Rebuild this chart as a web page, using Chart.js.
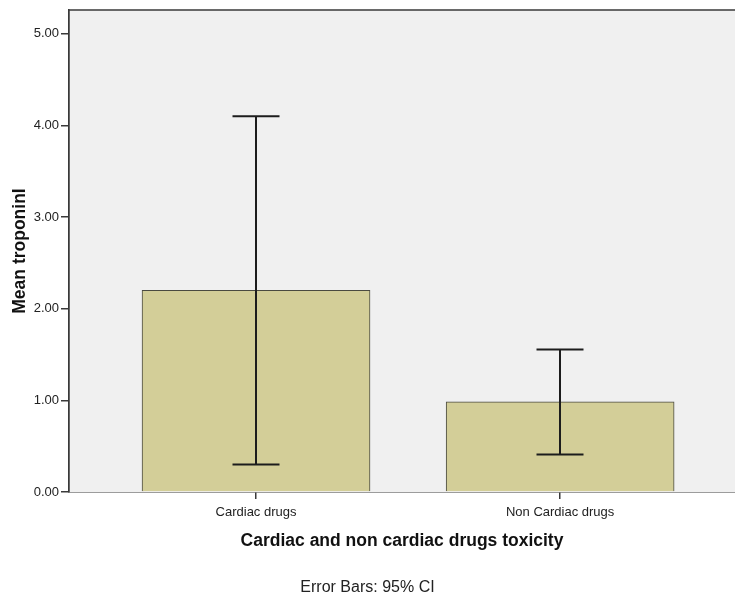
<!DOCTYPE html>
<html>
<head>
<meta charset="utf-8">
<script src="https://cdn.jsdelivr.net/npm/chart.js@4/dist/chart.umd.min.js"></script>
<style>
  html, body { margin: 0; padding: 0; background: #fff; overflow: hidden; }
  #wrap { width: 735px; height: 597px; }
</style>
</head>
<body>
<div id="wrap"><canvas id="chart" width="735" height="597"></canvas></div>
<script>
// Data
const categories = ["Cardiac drugs", "Non Cardiac drugs"];
const meanTroponin = [2.2, 0.985];
const ciLow = [0.3, 0.41];
const ciHigh = [4.1, 1.555];
const yTicks = [0, 1, 2, 3, 4, 5];

const axisColor = "#3a3a3a";
const fontFamily = "'Liberation Sans', Arial, sans-serif";

// plot background + frame
const plotFrame = {
  id: "plotFrame",
  beforeDatasetsDraw(chart) {
    const { ctx, chartArea: a } = chart;
    ctx.save();
    ctx.fillStyle = "#f0f0f0";
    ctx.fillRect(a.left, a.top, a.right - a.left, a.bottom - a.top);
    ctx.restore();
  },
  afterDraw(chart) {
    const { ctx, chartArea: a } = chart;
    ctx.save();
    ctx.strokeStyle = axisColor;
    ctx.lineWidth = 1.5;
    ctx.beginPath();
    ctx.moveTo(a.left, a.bottom);
    ctx.lineTo(a.left, a.top);
    ctx.lineTo(a.right + 2, a.top);
    ctx.stroke();
    ctx.restore();
  },
};

// 95% CI whiskers
const errorBars = {
  id: "errorBars",
  afterDatasetsDraw(chart) {
    const { ctx, scales } = chart;
    const x = scales.x, y = scales.y;
    ctx.save();
    ctx.strokeStyle = "#1c1c1c";
    ctx.lineWidth = 2;
    categories.forEach((c, i) => {
      const px = Math.round(x.getPixelForValue(i + 1));
      const top = y.getPixelForValue(ciHigh[i]);
      const bot = y.getPixelForValue(ciLow[i]);
      const cap = 23.5;
      ctx.beginPath();
      ctx.moveTo(px, top);
      ctx.lineTo(px, bot);
      ctx.moveTo(px - cap, top);
      ctx.lineTo(px + cap, top);
      ctx.moveTo(px - cap, bot);
      ctx.lineTo(px + cap, bot);
      ctx.stroke();
    });
    ctx.restore();
  },
};

new Chart(document.getElementById("chart"), {
  type: "bar",
  data: {
    datasets: [
      {
        data: meanTroponin.map((v, i) => ({ x: i + 1, y: v })),
        backgroundColor: "#d3ce98",
        borderColor: "#4a4a40",
        borderWidth: 1,
        barThickness: 228,
      },
    ],
  },
  options: {
    responsive: false,
    animation: false,
    layout: { padding: { top: 10, left: 0, right: 0, bottom: 0 } },
    plugins: {
      legend: { display: false },
      tooltip: { enabled: false },
      title: {
        display: true,
        position: "bottom",
        text: "Error Bars: 95% CI",
        color: "#222",
        font: { family: fontFamily, size: 16, weight: "normal" },
        padding: { top: 2, bottom: 0 },
      },
    },
    scales: {
      x: {
        type: "linear",
        offset: false,
        min: 0.385,
        max: 2.575,
        afterBuildTicks(scale) {
          scale.ticks = categories.map((c, i) => ({ value: i + 1 }));
        },
        afterFit(scale) {
          scale.height = 83.8;
        },
        ticks: {
          callback: (v) => categories[v - 1],
          color: "#222",
          font: { family: fontFamily, size: 13 },
          padding: 5.5,
          maxRotation: 0,
          autoSkip: false,
        },
        grid: { offset: false, drawOnChartArea: false, tickLength: 7, color: axisColor, lineWidth: 1.5 },
        border: { color: axisColor, width: 1.5 },
        title: {
          display: true,
          text: "Cardiac and non cardiac drugs toxicity",
          color: "#111",
          font: { family: fontFamily, size: 17.5, weight: "bold" },
          padding: { top: 0, bottom: 24.3 },
        },
      },
      y: {
        min: 0,
        max: 5.26,
        afterBuildTicks(scale) {
          scale.ticks = yTicks.map((v) => ({ value: v }));
        },
        afterFit(scale) {
          scale.width = 69;
        },
        ticks: {
          callback: (v) => v.toFixed(2),
          color: "#222",
          font: { family: fontFamily, size: 13 },
          padding: 2,
        },
        grid: { drawOnChartArea: false, tickLength: 8, color: axisColor, lineWidth: 1.5 },
        border: { color: axisColor, width: 1.5 },
        title: {
          display: true,
          text: "Mean troponinI",
          color: "#111",
          font: { family: fontFamily, size: 17.5, weight: "bold" },
          padding: { top: 9.5, bottom: 0 },
        },
      },
    },
  },
  plugins: [plotFrame, errorBars],
});
</script>
</body>
</html>
